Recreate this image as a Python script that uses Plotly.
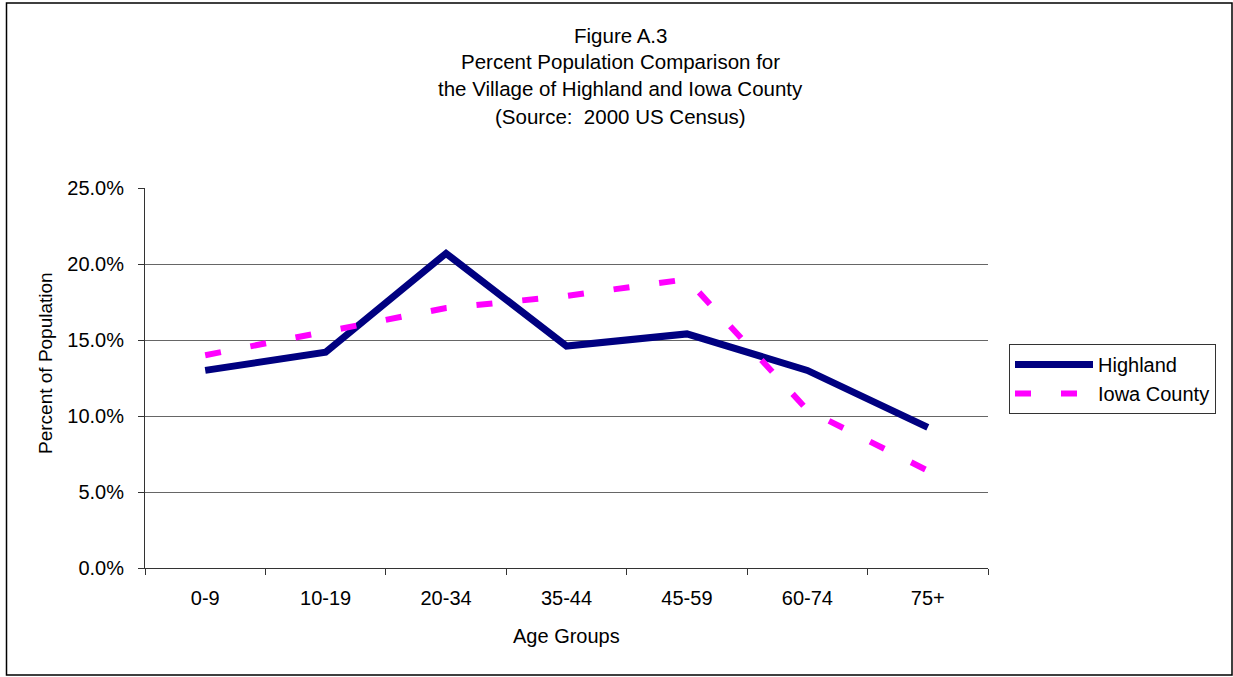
import plotly.graph_objects as go

age_groups = ["0-9", "10-19", "20-34", "35-44", "45-59", "60-74", "75+"]
highland = [13.0, 14.2, 20.7, 14.6, 15.4, 13.0, 9.25]
iowa_county = [14.0, 15.55, 17.1, 17.9, 19.0, 10.4, 6.4]
y_ticks = [0, 5, 10, 15, 20, 25]
y_tick_labels = ["0.0%", "5.0%", "10.0%", "15.0%", "20.0%", "25.0%"]
title_lines = [
    "Figure A.3",
    "Percent Population Comparison for",
    "the Village of Highland and Iowa County",
    "(Source:  2000 US Census)",
]

W, H = 1233, 677
L, R, T, B = 145, 988, 188, 568
FONT = "Liberation Sans, Arial, sans-serif"

def px_x(px):
    return (px - L) / (R - L)

def px_y(py):
    return (B - py) / (B - T)

fig = go.Figure()
fig.add_trace(go.Scatter(
    x=age_groups, y=highland, name="Highland", mode="lines",
    line=dict(color="#000080", width=7), legendgroup="a",
))
fig.add_trace(go.Scatter(
    x=age_groups, y=iowa_county, name="Iowa County", mode="lines",
    line=dict(color="#FF00FF", width=6, dash="16px,30px"), legendgroup="b",
))

annotations = []
for i, t in enumerate(title_lines):
    annotations.append(dict(
        text=t, xref="paper", yref="paper", x=px_x(620), y=px_y([35, 61.5, 88.5, 116][i]),
        xanchor="center", yanchor="middle", showarrow=False,
        font=dict(family=FONT, size=20.5, color="black"),
    ))
annotations.append(dict(
    text="Percent of Population", xref="paper", yref="paper",
    x=px_x(45), y=px_y(363), textangle=-90, xanchor="center", yanchor="middle",
    showarrow=False, font=dict(family=FONT, size=19, color="black"),
))
annotations.append(dict(
    text="Age Groups", xref="paper", yref="paper",
    x=px_x(566), y=px_y(636), xanchor="center", yanchor="middle",
    showarrow=False, font=dict(family=FONT, size=20, color="black"),
))

fig.update_layout(
    width=W, height=H,
    margin=dict(l=L, r=W - R, t=T, b=H - B, pad=0),
    paper_bgcolor="white", plot_bgcolor="white",
    font=dict(family=FONT, size=20, color="black"),
    showlegend=True,
    legend=dict(
        x=px_x(1009), y=px_y(344), xanchor="left", yanchor="top",
        bgcolor="white", bordercolor="#333333", borderwidth=1,
        font=dict(family=FONT, size=20, color="black"),
        itemwidth=78, tracegroupgap=6, traceorder="normal",
    ),
    annotations=annotations,
    shapes=[dict(
        type="rect", xref="paper", yref="paper",
        x0=px_x(6.5), x1=px_x(1232), y0=px_y(675), y1=px_y(3),
        line=dict(color="black", width=1.5), fillcolor="rgba(0,0,0,0)", layer="below",
    )],
)
fig.update_xaxes(
    type="category", range=[-0.5, len(age_groups) - 0.5],
    showgrid=False, showline=True, linecolor="#333333", linewidth=1,
    ticks="outside", ticklen=6, tickcolor="#333333", tickson="boundaries",
    ticklabelstandoff=12, tickfont=dict(size=20), zeroline=False,
)
fig.update_yaxes(
    range=[0, 25], tickvals=y_ticks, ticktext=y_tick_labels,
    showgrid=True, gridcolor="#666666", gridwidth=1,
    showline=True, linecolor="#333333", linewidth=1,
    ticks="outside", ticklen=6, tickcolor="#333333",
    ticklabelstandoff=10, tickfont=dict(size=20), zeroline=False,
)

fig.write_html(
    "out.html",
    config={"displayModeBar": False},
    post_script="document.body.style.margin='0px';",
)
